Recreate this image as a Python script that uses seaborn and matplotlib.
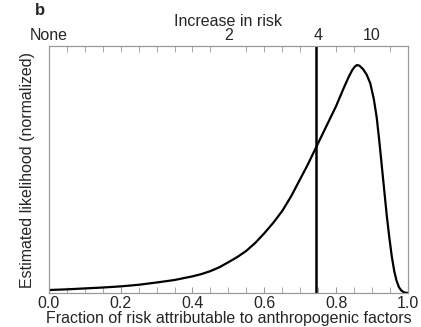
import numpy as np
import pandas as pd
import seaborn as sns
import matplotlib.pyplot as plt

# curve (normalized likelihood, peak = 1)
frac = [0.0, 0.05, 0.10, 0.15, 0.20, 0.25, 0.30, 0.35, 0.40, 0.425, 0.45,
        0.475, 0.50, 0.525, 0.55, 0.575, 0.60, 0.625, 0.65, 0.675, 0.70,
        0.72, 0.74, 0.76, 0.78, 0.80, 0.82, 0.835, 0.845, 0.852, 0.858,
        0.865, 0.875, 0.885, 0.895, 0.905, 0.913, 0.92, 0.927, 0.934, 0.941,
        0.948, 0.955, 0.962, 0.968, 0.975, 0.982, 0.99, 1.0]
likelihood = [0.013, 0.016, 0.02, 0.024, 0.029, 0.036, 0.046, 0.057, 0.073,
              0.083, 0.096, 0.113, 0.135, 0.158, 0.185, 0.22, 0.262, 0.308,
              0.36, 0.425, 0.5, 0.56, 0.625, 0.69, 0.755, 0.82, 0.895, 0.948,
              0.978, 0.993, 1.0, 0.997, 0.982, 0.958, 0.92, 0.85, 0.77, 0.67,
              0.56, 0.45, 0.34, 0.245, 0.16, 0.095, 0.055, 0.025, 0.01, 0.002,
              0.0]
threshold = 0.745
top_ticks = [0.0, 0.5, 0.75, 0.9]
top_labels = ["None", "2", "4", "10"]

df = pd.DataFrame({"frac": frac, "likelihood": likelihood})

sns.set_style("white")
plt.rcParams["font.family"] = ["Liberation Sans", "DejaVu Sans"]
fig, ax = plt.subplots(figsize=(4.21, 3.27), dpi=100)
fig.subplots_adjust(left=0.116, right=0.969, top=0.859, bottom=0.104)

sns.lineplot(data=df, x="frac", y="likelihood", color="black", lw=1.6, ax=ax)
ax.axvline(threshold, color="black", lw=1.8)

ax.set_xlim(0, 1)
ax.set_ylim(0, 1.083)
ax.set_yticks([])
ax.set_xticks(np.arange(0, 1.01, 0.2))
ax.set_xticks(np.arange(0, 1.01, 0.05), minor=True)
ax.set_xticklabels([f"{v:.1f}" for v in np.arange(0, 1.01, 0.2)])
ax.tick_params(axis="x", which="both", direction="in", length=4, color="#999999",
               labelsize=11.5, pad=2)
ax.set_xlabel("Fraction of risk attributable to anthropogenic factors",
              fontsize=11.5, labelpad=0)
ax.set_ylabel("Estimated likelihood (normalized)", fontsize=11.5, labelpad=10)
for s in ax.spines.values():
    s.set_color("#999999")
    s.set_linewidth(0.8)

top = ax.twiny()
top.set_xlim(0, 1)
top.set_xticks(top_ticks)
top.set_xticklabels(top_labels)
top.set_xticks(np.arange(0, 1.01, 0.05), minor=True)
top.tick_params(axis="x", which="both", direction="in", length=4, color="#999999",
                labelsize=11.5, pad=2)
top.tick_params(axis="x", which="major", length=0)
top.set_xlabel("Increase in risk", fontsize=11.5, labelpad=2)
for s in top.spines.values():
    s.set_color("#999999")
    s.set_linewidth(0.8)

fig.text(0.083, 0.99, "b", fontsize=12, fontweight="bold", va="top")

fig.savefig("out.png", dpi=100)
